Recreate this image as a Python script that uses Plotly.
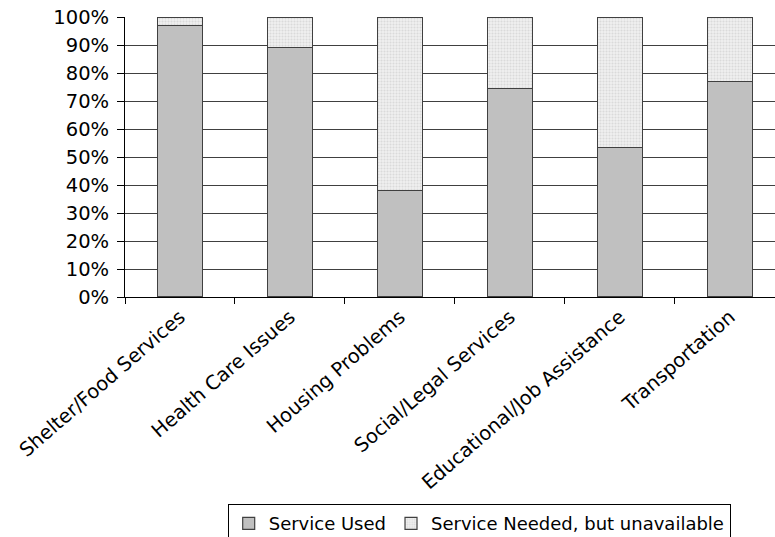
import plotly.graph_objects as go

categories = ["Shelter/Food Services", "Health Care Issues", "Housing Problems",
              "Social/Legal Services", "Educational/Job Assistance", "Transportation"]
service_used = [97, 89, 38, 74.5, 53.5, 77]
service_needed = [100 - v for v in service_used]
y_ticks = list(range(0, 101, 10))
y_tick_labels = [f"{t}%" for t in y_ticks]

tick_font = dict(family="DejaVu Sans, sans-serif", size=19.5, color="black")
legend_font = dict(family="DejaVu Sans, sans-serif", size=18, color="black")

fig = go.Figure()
fig.add_trace(go.Bar(
    x=categories, y=service_used, name="Service Used",
    width=0.41,
    marker=dict(color="#c0c0c0", line=dict(color="#404040", width=1.2)),
))
fig.add_trace(go.Bar(
    x=categories, y=service_needed, name="Service Needed, but unavailable",
    width=0.41,
    marker=dict(color="#ececec", line=dict(color="#404040", width=1.2),
                pattern=dict(shape=".", fgcolor="#c4c4c4", bgcolor="#f0f0f0",
                             size=3, solidity=0.4)),
))

fig.update_layout(
    barmode="stack",
    width=775, height=537,
    margin=dict(l=125, r=0, t=17, b=240, autoexpand=False),
    paper_bgcolor="white", plot_bgcolor="white",
    font=tick_font,
    showlegend=True,
    legend=dict(orientation="h", x=0.158, xanchor="left", y=-0.74, yanchor="top",
                bordercolor="black", borderwidth=1, font=legend_font,
                traceorder="normal", itemwidth=30, tracegroupgap=0),
)
fig.update_xaxes(
    range=[-0.5, 5.41], tickangle=-41, tickson="boundaries",
    ticks="outside", ticklen=6, tickcolor="black",
    showline=True, linecolor="black", linewidth=1,
    showgrid=False, tickfont=tick_font, automargin=False,
)
fig.update_yaxes(
    range=[0, 100], tickvals=y_ticks, ticktext=y_tick_labels,
    ticks="outside", ticklen=7, tickcolor="black",
    showline=True, linecolor="black", linewidth=1,
    showgrid=True, gridcolor="#404040", gridwidth=1,
    zeroline=False, tickfont=tick_font, automargin=False,
    ticklabelstandoff=4,
)

fig.write_html("out.html")
